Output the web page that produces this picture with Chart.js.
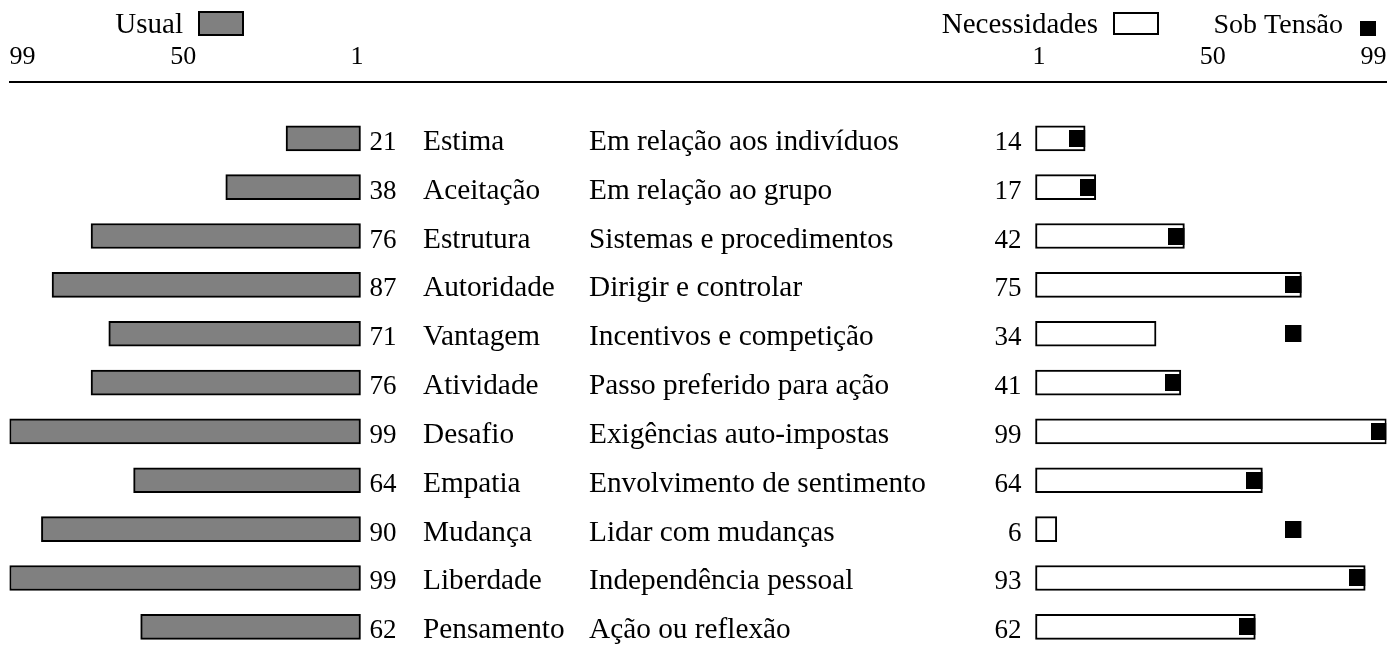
<!DOCTYPE html>
<html>
<head>
<meta charset="utf-8">
<script src="https://cdn.jsdelivr.net/npm/chart.js@4.4.1/dist/chart.umd.min.js"></script>
<style>
  html, body { margin: 0; padding: 0; background: #fff; overflow: hidden; }
  #wrap { position: relative; width: 1400px; height: 656px; }
</style>
</head>
<body>
<div id="wrap"><canvas id="chart"></canvas></div>
<script>
// Dados do perfil
const categories = ['Estima', 'Aceitação', 'Estrutura', 'Autoridade', 'Vantagem', 'Atividade',
    'Desafio', 'Empatia', 'Mudança', 'Liberdade', 'Pensamento'];
const descriptions = ['Em relação aos indivíduos', 'Em relação ao grupo', 'Sistemas e procedimentos',
    'Dirigir e controlar', 'Incentivos e competição', 'Passo preferido para ação',
    'Exigências auto-impostas', 'Envolvimento de sentimento', 'Lidar com mudanças',
    'Independência pessoal', 'Ação ou reflexão'];
const usual  = [21, 38, 76, 87, 71, 76, 99, 64, 90, 99, 62];
const needs  = [14, 17, 42, 75, 34, 41, 99, 64, 6, 93, 62];
const stress = [14, 17, 42, 75, 75, 41, 99, 64, 75, 93, 62];
const tickLabels = [99, 50, 1];

// espaço (em unidades da escala) entre o zero da esquerda e o zero da direita
const GAP = 190.4;
const FONT = '"Liberation Serif", "Times New Roman", serif';
const NAME_X = 423;
const DESC_X = 589;

// quadrado preto, metade esquerda da imagem -> borda direita no valor
const stressMark = document.createElement('canvas');
stressMark.width = 32;
stressMark.height = 17;
const smc = stressMark.getContext('2d');
smc.fillStyle = '#000';
smc.fillRect(0, 0, 16, 17);

// textos das linhas (valores, nomes, descrições)
const rowText = {
    id: 'rowText',
    afterDatasetsDraw(chart) {
        const { ctx, scales: { x, y } } = chart;
        ctx.save();
        ctx.fillStyle = '#000';
        ctx.textBaseline = 'alphabetic';
        categories.forEach((name, i) => {
            const base = y.getPixelForValue(i) + 11.5;
            ctx.font = `27px ${FONT}`;
            ctx.textAlign = 'left';
            ctx.fillText(String(usual[i]), x.getPixelForValue(0) + 9, base);
            ctx.textAlign = 'right';
            ctx.fillText(String(needs[i]), x.getPixelForValue(GAP) - 14, base);
            ctx.font = `29.3px ${FONT}`;
            ctx.textAlign = 'left';
            ctx.fillText(name, NAME_X, base);
            ctx.fillText(descriptions[i], DESC_X, base);
        });
        ctx.restore();
    }
};

// legenda: texto antes da caixa
const topLegend = {
    id: 'topLegend',
    afterDraw(chart) {
        const ctx = chart.ctx;
        ctx.save();
        ctx.font = `29px ${FONT}`;
        ctx.fillStyle = '#000';
        ctx.textAlign = 'right';
        ctx.textBaseline = 'alphabetic';
        ctx.fillText('Usual', 183, 33);
        ctx.fillText('Necessidades', 1098, 33);
        ctx.font = `28px ${FONT}`;
        ctx.fillText('Sob Tensão', 1343, 33);

        ctx.lineWidth = 2;
        ctx.strokeStyle = '#000';
        ctx.fillStyle = '#808080';
        ctx.fillRect(199, 12, 44, 23);
        ctx.strokeRect(199, 12, 44, 23);
        ctx.fillStyle = '#fff';
        ctx.fillRect(1114, 13, 44, 21);
        ctx.strokeRect(1114, 13, 44, 21);
        ctx.fillStyle = '#000';
        ctx.fillRect(1360, 21, 16, 15);
        ctx.restore();
    }
};

const ctx = document.getElementById('chart');
new Chart(ctx, {
    type: 'bar',
    data: {
        labels: categories,
        datasets: [
            {
                label: 'Usual',
                data: usual.map((v, i) => ({ x: [-v, 0], y: i })),
                backgroundColor: '#808080',
                borderColor: '#000',
                borderWidth: 2,
                borderSkipped: false,
                barThickness: 25,
                grouped: false,
                order: 1,
            },
            {
                label: 'Necessidades',
                data: needs.map((v, i) => ({ x: [GAP, GAP + v], y: i })),
                backgroundColor: '#fff',
                borderColor: '#000',
                borderWidth: 2,
                borderSkipped: false,
                barThickness: 25,
                grouped: false,
                order: 1,
            },
            {
                type: 'scatter',
                label: 'Sob Tensão',
                data: stress.map((v, i) => ({ x: GAP + v, y: i })),
                pointStyle: stressMark,
                pointRadius: 8,
                showLine: false,
                order: 0,
            }
        ]
    },
    options: {
        indexAxis: 'y',
        responsive: true,
        maintainAspectRatio: false,
        animation: false,
        layout: {
            padding: { left: 9.5, right: 13.5, top: 32.8, bottom: 0 }
        },
        scales: {
            x: {
                type: 'linear',
                position: 'top',
                min: -99,
                max: GAP + 99,
                grid: { display: false, drawTicks: false },
                border: { display: true, width: 2, color: '#000' },
                afterBuildTicks(scale) {
                    const left = tickLabels.map(v => ({ value: -v }));
                    const right = tickLabels.slice().reverse().map(v => ({ value: GAP + v }));
                    scale.ticks = left.concat(right);
                },
                ticks: {
                    align: 'inner',
                    padding: 9,
                    color: '#000',
                    font: { family: FONT, size: 26 },
                    callback: (value) => value < 0 ? Math.round(-value) : Math.round(value - GAP),
                }
            },
            y: {
                type: 'linear',
                display: false,
                offset: false,
                reverse: true,
                min: -1.153,
                max: 10.413,
            }
        },
        plugins: {
            legend: { display: false },
            tooltip: { enabled: false },
        }
    },
    plugins: [rowText, topLegend]
});
</script>
</body>
</html>
